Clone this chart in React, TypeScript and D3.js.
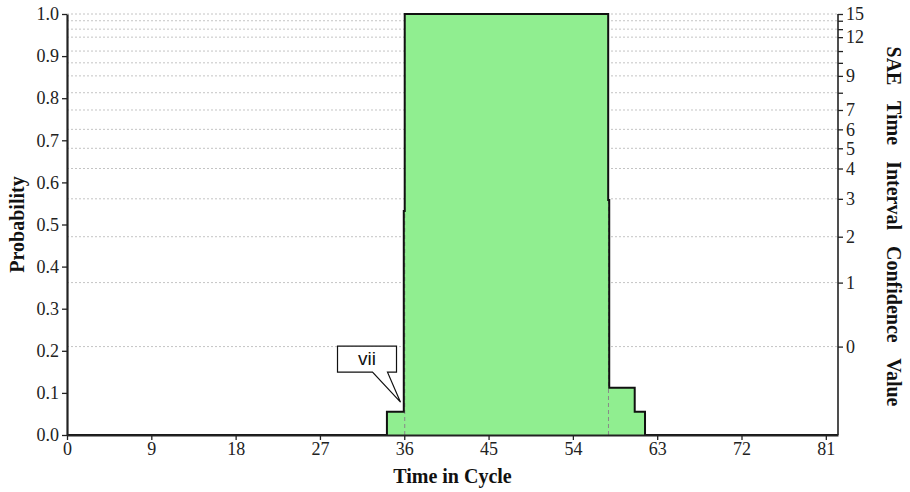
import React, { useEffect, useRef } from "react";
import * as d3 from "d3";

// time in cycle ticks
const xTicks = [0, 9, 18, 27, 36, 45, 54, 63, 72, 81];
const probTicks = [0, 0.1, 0.2, 0.3, 0.4, 0.5, 0.6, 0.7, 0.8, 0.9, 1.0];

// SAE confidence value scale (right axis), mapped onto probability
const confValues = [0, 1, 2, 3, 4, 5, 6, 7, 8, 9, 10, 11, 12, 13, 14, 15];
const confProbs = [0.21, 0.362, 0.471, 0.561, 0.633, 0.681, 0.726, 0.772, 0.813, 0.853, 0.884, 0.912, 0.945, 0.964, 0.984, 1.0];
const confLabeled = [0, 1, 2, 3, 4, 5, 6, 7, 9, 12, 15];

// step distribution
const stepX = [0, 34.15, 35.95, 36.05, 57.77, 57.88, 60.6, 61.7, 82.3];
const stepP = [0, 0.055, 0.532, 1.0, 0.558, 0.112, 0.055, 0, 0];

// interval markers
const markerX = [36.05, 57.8];

// callout
const calloutX = 35.6;
const calloutP = 0.078;
const calloutText = "vii";

const W = 910, H = 492;
const margin = { top: 14, right: 72, bottom: 57, left: 67 };

export default function App() {
  const ref = useRef<SVGSVGElement>(null);

  useEffect(() => {
    const svg = d3.select(ref.current);
    svg.selectAll("*").remove();

    const width = W - margin.left - margin.right;
    const height = H - margin.top - margin.bottom;

    const x = d3.scaleLinear().domain([0, 82.3]).range([0, width]);
    const y = d3.scaleLinear().domain([0, 1]).range([height, 0]);

    const g = svg.append("g").attr("transform", `translate(${margin.left},${margin.top})`);

    // grid lines at confidence levels
    g.selectAll(".grid")
      .data(confProbs)
      .enter().append("line")
      .attr("x1", 0).attr("x2", width)
      .attr("y1", d => y(d)).attr("y2", d => y(d))
      .attr("stroke", "#c4c4c4")
      .attr("stroke-dasharray", "2,2")
      .attr("stroke-width", 1);

    const pts = stepX.map((d, i) => [d, stepP[i]] as [number, number]);

    const area = d3.area<[number, number]>()
      .x(d => x(d[0])).y0(y(0)).y1(d => y(d[1]))
      .curve(d3.curveStepAfter);
    const line = d3.line<[number, number]>()
      .x(d => x(d[0])).y(d => y(d[1]))
      .curve(d3.curveStepAfter);

    g.append("path").datum(pts).attr("d", area).attr("fill", "#90ee90");

    g.selectAll(".marker")
      .data(markerX)
      .enter().append("line")
      .attr("x1", d => x(d)).attr("x2", d => x(d))
      .attr("y1", y(0)).attr("y2", y(1))
      .attr("stroke", "#888")
      .attr("stroke-dasharray", "4,3")
      .attr("stroke-width", 1);

    g.append("path").datum(pts).attr("d", line)
      .attr("fill", "none").attr("stroke", "#111").attr("stroke-width", 2);

    // axes
    const font = "'Liberation Serif', 'Times New Roman', serif";
    const styleAxis = (sel: any, sw: number) => {
      sel.attr("font-family", font).attr("font-size", 18);
      sel.selectAll("text").attr("fill", "#222");
      sel.select(".domain").attr("stroke", "#222").attr("stroke-width", sw);
      sel.selectAll(".tick line").attr("stroke", "#222").attr("stroke-width", 1.3);
    };

    const yAxisL = g.append("g")
      .call(d3.axisLeft(y).tickValues(probTicks).tickFormat(d3.format(".1f")).tickSize(5).tickSizeOuter(0).tickPadding(3));
    styleAxis(yAxisL, 2.2);

    const yAxisR = g.append("g").attr("transform", `translate(${width},0)`)
      .call(d3.axisRight(y).tickValues(confProbs)
        .tickFormat((d, i) => (confLabeled.includes(confValues[i]) ? String(confValues[i]) : ""))
        .tickSize(5).tickSizeOuter(0).tickPadding(3));
    styleAxis(yAxisR, 1.6);
    yAxisR.select(".domain").attr("d", `M0,${y(1)}V${height}`);

    const xAxis = g.append("g").attr("transform", `translate(0,${height})`)
      .call(d3.axisBottom(x).tickValues(xTicks).tickFormat(d3.format("d")).tickSize(5).tickSizeOuter(0).tickPadding(2));
    styleAxis(xAxis, 2.2);

    // axis titles
    g.append("text")
      .attr("transform", `translate(${-43},${height / 2}) rotate(-90)`)
      .attr("text-anchor", "middle")
      .attr("font-family", font).attr("font-weight", "bold").attr("font-size", 20)
      .attr("fill", "#111")
      .text("Probability");

    g.append("text")
      .attr("transform", `translate(${width + 49},${height / 2 + 2}) rotate(90)`)
      .attr("text-anchor", "middle")
      .attr("font-family", font).attr("font-weight", "bold").attr("font-size", 20)
      .attr("word-spacing", 11)
      .attr("fill", "#111")
      .text("SAE Time Interval Confidence Value");

    g.append("text")
      .attr("x", width / 2).attr("y", height + 48)
      .attr("text-anchor", "middle")
      .attr("font-family", font).attr("font-weight", "bold").attr("font-size", 20)
      .attr("fill", "#111")
      .text("Time in Cycle");

    // callout box
    const tx = x(calloutX), ty = y(calloutP);
    const bx0 = tx - 63, bx1 = tx - 4, by0 = ty - 56, by1 = ty - 30;
    g.append("path")
      .attr("d", `M${bx0},${by0}H${bx1}V${by1}H${tx - 13}L${tx},${ty}L${tx - 28},${by1}H${bx0}Z`)
      .attr("fill", "#fff").attr("stroke", "#111").attr("stroke-width", 1.2);
    g.append("text")
      .attr("x", (bx0 + bx1) / 2).attr("y", (by0 + by1) / 2 + 6)
      .attr("text-anchor", "middle")
      .attr("font-family", "'Liberation Sans', Arial, sans-serif").attr("font-size", 19)
      .attr("fill", "#111")
      .text(calloutText);
  }, []);

  return (
    <svg ref={ref} width={W} height={H}
      style={{ position: "absolute", left: 0, top: 0, background: "#fff" }} />
  );
}
